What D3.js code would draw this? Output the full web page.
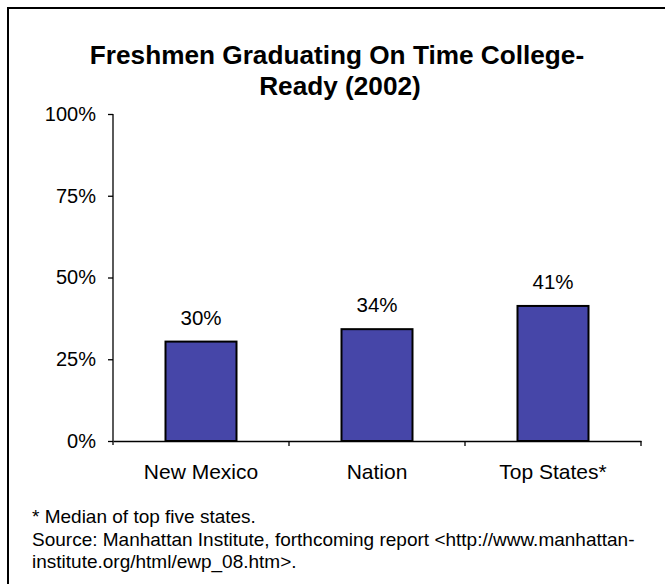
<!DOCTYPE html>
<html>
<head>
<meta charset="utf-8">
<script src="https://cdn.jsdelivr.net/npm/d3@7"></script>
<style>
  html, body { margin: 0; padding: 0; background: #fff; }
  svg { display: block; font-family: "Liberation Sans", Arial, sans-serif; }
</style>
</head>
<body>
<svg id="chart" width="665" height="584"></svg>
<script>
const categories = ["New Mexico", "Nation", "Top States*"];
const values = [0.304, 0.342, 0.413];
const valueLabels = ["30%", "34%", "41%"];
const yTicks = [0, 0.25, 0.5, 0.75, 1];
const yTickLabels = ["0%", "25%", "50%", "75%", "100%"];
const titleLines = ["Freshmen Graduating On Time College-", "Ready (2002)"];
const notes = [
  "* Median of top five states.",
  "Source: Manhattan Institute, forthcoming report <http://www.manhattan-",
  "institute.org/html/ewp_08.htm>."
];

(function () {
const svg = d3.select("#chart");

// frame
svg.append("path")
  .attr("d", "M8,700 L8,8 L700,8")
  .attr("fill", "none").attr("stroke", "#000").attr("stroke-width", 2);

// title
const titleX = [337, 340];
svg.selectAll("text.title").data(titleLines).join("text")
  .attr("class", "title")
  .attr("x", (d, i) => titleX[i])
  .attr("y", (d, i) => 64 + i * 31)
  .attr("text-anchor", "middle")
  .attr("font-weight", "bold")
  .attr("font-size", "26.2px")
  .attr("fill", "#000")
  .text(d => d);

const pLeft = 113, pRight = 641, pTop = 114, pBottom = 441;

const x = d3.scaleBand().domain(categories).range([pLeft, pRight]).paddingInner(0).paddingOuter(0);
const y = d3.scaleLinear().domain([0, 1]).range([pBottom, pTop]);

// bars
const barW = 71;
svg.selectAll("rect.bar").data(values).join("rect")
  .attr("class", "bar")
  .attr("x", (d, i) => x(categories[i]) + x.bandwidth() / 2 - barW / 2)
  .attr("y", d => y(d))
  .attr("width", barW)
  .attr("height", d => y(0) - y(d))
  .attr("fill", "#4646A8")
  .attr("stroke", "#000")
  .attr("stroke-width", 2);

// value labels
svg.selectAll("text.val").data(values).join("text")
  .attr("class", "val")
  .attr("x", (d, i) => x(categories[i]) + x.bandwidth() / 2)
  .attr("y", d => y(d) - 17)
  .attr("text-anchor", "middle")
  .attr("font-size", "20.5px")
  .attr("fill", "#000")
  .text((d, i) => valueLabels[i]);

// y axis
const yAxis = d3.axisLeft(y).tickValues(yTicks)
  .tickFormat((d, i) => yTickLabels[i])
  .tickSize(5).tickSizeOuter(0).tickPadding(12);
const gy = svg.append("g").attr("transform", `translate(${pLeft},0)`).call(yAxis);
gy.select(".domain").attr("d", `M0,${pTop}V${pBottom + 4}`).attr("stroke", "#000").attr("stroke-width", 1.3);
gy.selectAll(".tick line").attr("stroke", "#000").attr("stroke-width", 1.3);
gy.selectAll(".tick text").attr("font-size", "20px").attr("fill", "#000")
  .attr("font-family", "Liberation Sans, Arial, sans-serif");

// x axis
const xAxis = d3.axisBottom(x).tickSize(0).tickPadding(23).tickSizeOuter(0);
const gx = svg.append("g").attr("transform", `translate(0,${pBottom})`).call(xAxis);
gx.select(".domain").attr("stroke", "#000").attr("stroke-width", 1.3);
gx.selectAll(".tick text").attr("font-size", "21px").attr("fill", "#000")
  .attr("font-family", "Liberation Sans, Arial, sans-serif");
// category boundary ticks
const bounds = categories.slice(1).map(c => x(c)).concat([pRight]);
gx.selectAll("line.bnd").data(bounds).join("line")
  .attr("class", "bnd")
  .attr("x1", d => d).attr("x2", d => d)
  .attr("y1", 0).attr("y2", 5)
  .attr("stroke", "#000").attr("stroke-width", 1.3);

// notes
svg.selectAll("text.note").data(notes).join("text")
  .attr("class", "note")
  .attr("x", 32)
  .attr("y", (d, i) => 523 + i * 22.5)
  .attr("font-size", "19px")
  .attr("fill", "#000")
  .text(d => d);
})();
</script>
</body>
</html>
